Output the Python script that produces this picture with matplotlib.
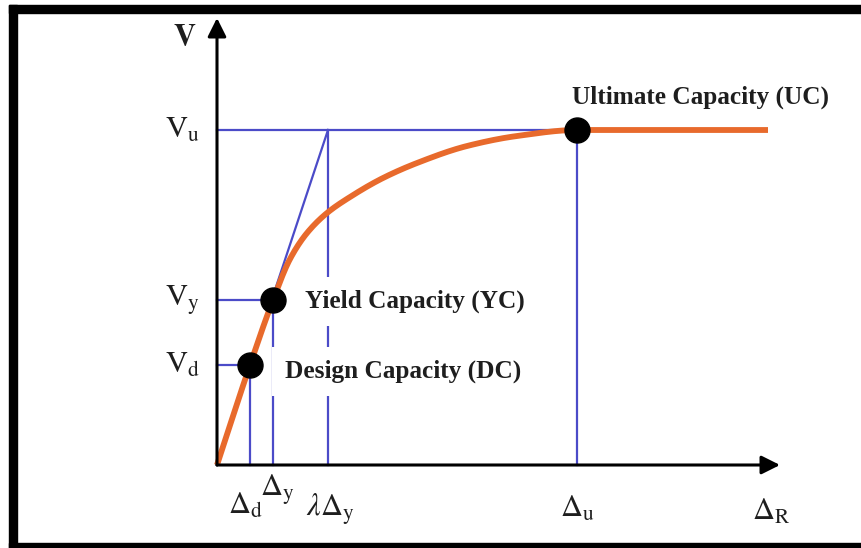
import numpy as np
import matplotlib
matplotlib.use("Agg")
import matplotlib.pyplot as plt
from matplotlib.patches import Rectangle

plt.rcParams['mathtext.fontset'] = 'stix'
plt.rcParams['font.family'] = ['Liberation Serif', 'DejaVu Serif']

# ── capacity curve (drift vs. shear) ─────────────────────────
drift = [0.00, 0.33, 0.56, 0.73, 0.90, 1.10, 1.33, 1.66, 2.00, 2.50, 3.00, 3.60, 5.51]
shear = [0.00, 1.00, 1.65, 2.06, 2.32, 2.52, 2.68, 2.87, 3.02, 3.19, 3.29, 3.35, 3.35]

# key points: design, yield, ultimate
d_d, V_d = 0.33, 1.00
d_y, V_y = 0.56, 1.65
d_u, V_u = 3.60, 3.35
lam_dy = 1.11          # lambda * delta_y, where the secant meets V_u

x_end, y_end = 5.63, 4.47   # arrow tips of the two axes

BLUE = '#4B4BC8'
ORANGE = '#E86A2C'
INK = '#1e1e1e'


def pchip(x, y, xs):
    # monotone cubic (Fritsch-Carlson) so the curve stays smooth without overshoot
    x = np.asarray(x, float)
    y = np.asarray(y, float)
    h = np.diff(x)
    s = np.diff(y) / h
    m = np.zeros_like(y)
    for k in range(1, len(x) - 1):
        if s[k - 1] * s[k] > 0:
            w1 = 2 * h[k] + h[k - 1]
            w2 = h[k] + 2 * h[k - 1]
            m[k] = (w1 + w2) / (w1 / s[k - 1] + w2 / s[k])
    m[0] = s[0]
    m[-1] = s[-1]
    idx = np.clip(np.searchsorted(x, xs) - 1, 0, len(x) - 2)
    t = (xs - x[idx]) / h[idx]
    h00 = 2 * t**3 - 3 * t**2 + 1
    h10 = t**3 - 2 * t**2 + t
    h01 = -2 * t**3 + 3 * t**2
    h11 = t**3 - t**2
    return (h00 * y[idx] + h10 * h[idx] * m[idx]
            + h01 * y[idx + 1] + h11 * h[idx] * m[idx + 1])


fig = plt.figure(figsize=(8.62, 5.48), dpi=100)
ax = fig.add_axes([0, 0, 1, 1])
ax.set_xlim(-2.17, 6.45)
ax.set_ylim(-0.83, 4.65)
ax.axis('off')

# ── reference lines ──────────────────────────────────────────
lw_b = 1.6
ax.plot([0, d_u], [V_u, V_u], color=BLUE, lw=lw_b, zorder=2)
ax.plot([0, d_y], [V_y, V_y], color=BLUE, lw=lw_b, zorder=2)
ax.plot([0, d_d], [V_d, V_d], color=BLUE, lw=lw_b, zorder=2)
ax.plot([d_d, d_d], [0, V_d], color=BLUE, lw=lw_b, zorder=2)
ax.plot([d_y, d_y], [0, V_y], color=BLUE, lw=lw_b, zorder=2)
ax.plot([lam_dy, lam_dy], [0, V_u], color=BLUE, lw=lw_b, zorder=2)
ax.plot([d_u, d_u], [0, V_u], color=BLUE, lw=lw_b, zorder=2)
ax.plot([0, lam_dy], [0, V_u], color=BLUE, lw=lw_b, zorder=2)

# ── curve and points ─────────────────────────────────────────
xs = np.linspace(drift[0], drift[-1], 800)
ax.plot(xs, pchip(drift, shear, xs), color=ORANGE, lw=4.2,
        solid_capstyle='butt', zorder=4)
ax.plot([d_d, d_y, d_u], [V_d, V_y, V_u], 'o', color='black', ms=18, zorder=5)

# ── axes arrows ──────────────────────────────────────────────
arrow = dict(arrowstyle='-|>', lw=2.2, color='black', mutation_scale=28,
             shrinkA=0, shrinkB=0)
ax.annotate('', xy=(x_end, 0), xytext=(0, 0), arrowprops=arrow, zorder=6)
ax.annotate('', xy=(0, y_end), xytext=(0, 0), arrowprops=arrow, zorder=6)

# ── annotations ──────────────────────────────────────────────
box = dict(facecolor='white', edgecolor='none', boxstyle='square,pad=0.5')
ax.text(3.55, 3.61, 'Ultimate Capacity (UC)', fontsize=18.2, fontweight='bold',
        color=INK, zorder=3)
ax.text(0.88, 1.57, 'Yield Capacity (YC)', fontsize=18.2, fontweight='bold',
        color=INK, bbox=box, zorder=3)
ax.text(0.68, 0.87, 'Design Capacity (DC)', fontsize=18.2, fontweight='bold',
        color=INK, bbox=box, zorder=3)

# ── axis symbols ─────────────────────────────────────────────
lab = dict(fontsize=22, color=INK, va='center')
ax.text(-0.32, 4.27, r'$\mathbf{V}$', ha='center', **lab)
ax.text(-0.17, V_u, r'$\mathrm{V}_\mathrm{u}$', ha='right', **lab)
ax.text(-0.17, V_y, r'$\mathrm{V}_\mathrm{y}$', ha='right', **lab)
ax.text(-0.17, V_d, r'$\mathrm{V}_\mathrm{d}$', ha='right', **lab)

ax.text(d_d - 0.04, -0.41, r'$\Delta_\mathrm{d}$', ha='center', **lab)
ax.text(d_y + 0.04, -0.25, r'$\Delta_\mathrm{y}$', ha='center', **lab)
ax.text(lam_dy + 0.02, -0.44, r'$\lambda\Delta_\mathrm{y}$', ha='center', **lab)
ax.text(d_u, -0.44, r'$\Delta_\mathrm{u}$', ha='center', **lab)
ax.text(x_end - 0.09, -0.47, r'$\Delta_\mathrm{R}$', ha='center', **lab)

# ── black frame ──────────────────────────────────────────────
W, H = 862, 548
for x0, y0, w, h in [(9, 0, 8, 543), (9, 535, 853, 8), (9, 0, 853, 5)]:
    fig.add_artist(Rectangle((x0 / W, y0 / H), w / W, h / H, color='black',
                             transform=fig.transFigure, zorder=10))

fig.savefig('out.png', dpi=100)
